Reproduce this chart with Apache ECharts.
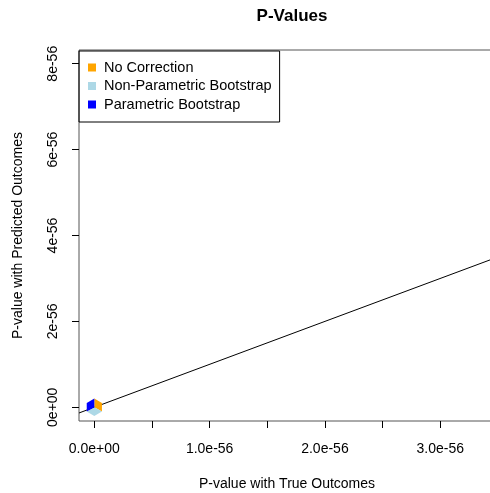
<!DOCTYPE html>
<html>
<head>
<meta charset="utf-8">
<script src="https://cdn.jsdelivr.net/npm/echarts@6/dist/echarts.min.js"></script>
<style>html,body{margin:0;padding:0;background:#fff;}#c{width:490px;height:493px;}</style>
</head>
<body>
<div id="c"></div>
<script>
// Values are expressed in units of 1e-56
const UNIT_EXP = -56;
const seriesNames = ["No Correction", "Non-Parametric Bootstrap", "Parametric Bootstrap"];
const noCorrection = [[0, 0]];
const nonParametricBootstrap = [[0, 0]];
const parametricBootstrap = [[0, 0]];
const xTicks = [0, 0.5, 1, 1.5, 2, 2.5, 3];
const xTickLabels = [0, 1, 2, 3];
const yTickLabels = [0, 2, 4, 6, 8];
const X_MIN = -0.133, X_MAX = 3.475;
const Y_MIN = -0.32, Y_MAX = 8.32;

const FONT = "'Liberation Sans', Arial, sans-serif";
const colors = ["#FFA500", "#ADD8E6", "#0000FF"];

function fmtX(v) {
  if (v === 0) return "0.0e+00";
  return v.toFixed(1) + "e" + UNIT_EXP;
}
function fmtY(v) {
  if (v === 0) return "0e+00";
  return v + "e" + UNIT_EXP;
}

const chart = echarts.init(document.getElementById('c'), null, {renderer: 'canvas'});
const option = {
  animation: false,
  backgroundColor: '#fff',
  title: {
    text: 'P-Values', left: 287, top: 3, textAlign: 'center',
    textStyle: {fontFamily: FONT, fontSize: 17, fontWeight: 'bold', color: '#000'}
  },
  legend: {
    orient: 'vertical', left: 79, top: 51,
    padding: [9, 8, 10, 9], itemGap: 3.5,
    itemWidth: 8, itemHeight: 8, icon: 'rect',
    borderColor: '#000', borderWidth: 1,
    textStyle: {fontFamily: FONT, fontSize: 14.5, color: '#000', padding: [0, 0, 0, 3]},
    data: seriesNames.map((n, i) => ({name: n, icon: 'rect', itemStyle: {color: colors[i], borderWidth: 0, opacity: 1}}))
  },
  grid: {left: 79, top: 50, right: -5, bottom: 72, show: true, borderColor: '#555', borderWidth: 1,
         containLabel: false, outerBoundsMode: 'none'},
  xAxis: {
    type: 'value', min: X_MIN, max: X_MAX,
    name: 'P-value with True Outcomes', nameLocation: 'middle', nameGap: 56,
    nameTextStyle: {fontFamily: FONT, fontSize: 14, color: '#000'},
    axisLine: {show: false, onZero: false},
    axisTick: {show: true, inside: false, length: 7, customValues: xTicks, lineStyle: {color: '#000'}},
    axisLabel: {customValues: xTickLabels, formatter: fmtX, margin: 21, fontFamily: FONT, fontSize: 14, color: '#000'},
    splitLine: {show: false}
  },
  yAxis: {
    type: 'value', min: Y_MIN, max: Y_MAX,
    name: 'P-value with Predicted Outcomes', nameLocation: 'middle', nameGap: 54, nameRotate: 90,
    nameTextStyle: {fontFamily: FONT, fontSize: 14, color: '#000'},
    axisLine: {show: false, onZero: false},
    axisTick: {show: true, inside: false, length: 7, customValues: yTickLabels, lineStyle: {color: '#000'}},
    axisLabel: {customValues: yTickLabels, formatter: fmtY, rotate: 90, margin: 19, fontFamily: FONT, fontSize: 14, color: '#000'},
    splitLine: {show: false}
  },
  series: [
    {
      name: 'identity', type: 'line', silent: true, symbol: 'none',
      data: [[X_MIN, X_MIN], [X_MAX, X_MAX]],
      lineStyle: {color: '#000', width: 1}, z: 1
    },
    {
      name: seriesNames[0], type: 'scatter', data: noCorrection,
      symbol: 'path://M0,0 L87,50 L87,150 L0,100 Z', symbolSize: [7.6, 13], symbolOffset: [3.8, -2.2],
      itemStyle: {color: colors[0], opacity: 1}, z: 3
    },
    {
      name: seriesNames[1], type: 'scatter', data: nonParametricBootstrap,
      symbol: 'path://M87,0 L174,50 L87,100 L0,50 Z', symbolSize: [15.2, 8.7], symbolOffset: [0, 4.35],
      itemStyle: {color: colors[1], opacity: 1}, z: 3
    },
    {
      name: seriesNames[2], type: 'scatter', data: parametricBootstrap,
      symbol: 'path://M0,50 L87,0 L87,100 L0,150 Z', symbolSize: [7.6, 13], symbolOffset: [-3.8, -2.2],
      itemStyle: {color: colors[2], opacity: 1}, z: 3
    }
  ]
};
chart.setOption(option);
</script>
</body>
</html>
